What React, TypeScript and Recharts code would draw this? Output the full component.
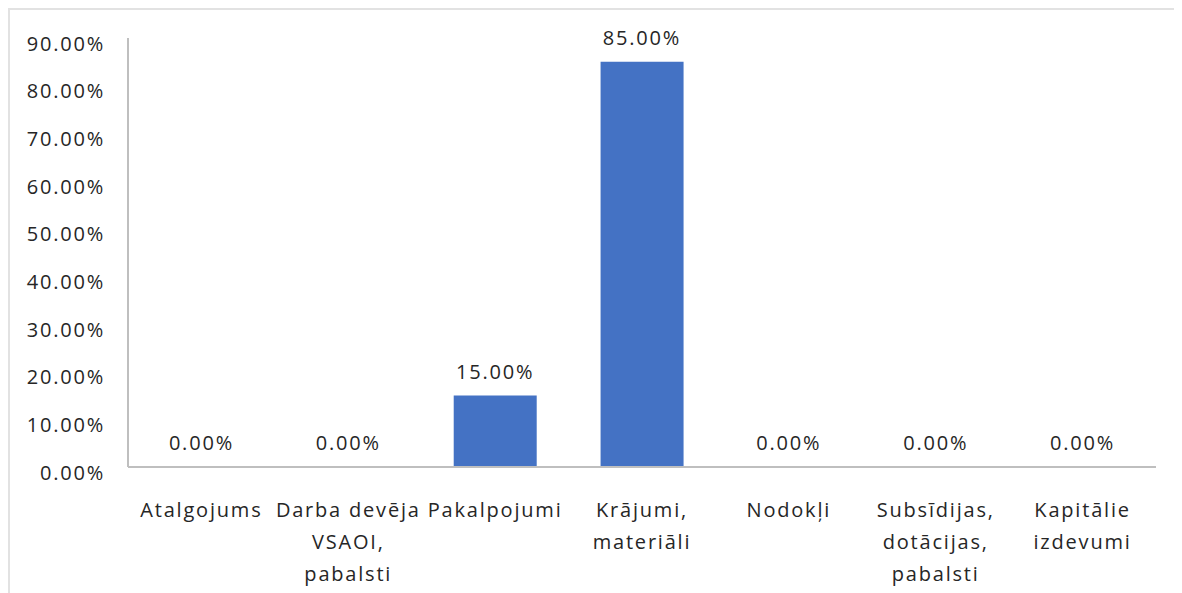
import { ComposedChart, Bar, Line, XAxis, YAxis, LabelList } from "recharts";

const categories = [
  "Atalgojums",
  "Darba devēja\nVSAOI,\npabalsti",
  "Pakalpojumi",
  "Krājumi,\nmateriāli",
  "Nodokļi",
  "Subsīdijas,\ndotācijas,\npabalsti",
  "Kapitālie\nizdevumi",
];
const shares = [0, 0, 15, 85, 0, 0, 0];
const yTicks = [0, 10, 20, 30, 40, 50, 60, 70, 80, 90];

const data = categories.map((name, i) => ({ name, value: shares[i] }));

const FONT = "'Open Sans', 'DejaVu Sans', sans-serif";
const TEXT = "#262626";
const fmt = (v: number) => `${v.toFixed(2)}%`;

function CategoryTick({ x, y, payload }: any) {
  const lines = String(payload.value).split("\n");
  return (
    <g>
      {lines.map((line, i) => (
        <text
          key={i}
          x={x}
          y={y + 40 + i * 32}
          textAnchor="middle"
          dominantBaseline="central"
          fill={TEXT}
          fontSize={20}
          fontFamily={FONT}
          letterSpacing={1.8}
        >
          {line}
        </text>
      ))}
    </g>
  );
}

function PercentTick({ x, y, payload }: any) {
  return (
    <text
      x={x - 21}
      y={y + 5}
      textAnchor="end"
      dominantBaseline="central"
      fill={TEXT}
      fontSize={20}
      fontFamily={FONT}
      letterSpacing={1.8}
    >
      {fmt(payload.value)}
    </text>
  );
}

export default function App() {
  return (
    <div
      style={{
        width: 1174,
        height: 585,
        borderTop: "2px solid #e2e2e2",
        borderLeft: "2px solid #e2e2e2",
        background: "#fff",
      }}
    >
      <ComposedChart
        width={1172}
        height={583}
        data={data}
        margin={{ top: 28, right: 26, bottom: 6, left: 8 }}
        barSize={83}
      >
        <XAxis
          dataKey="name"
          interval={0}
          height={120}
          tickLine={false}
          tickSize={0}
          axisLine={{ stroke: "#bfbfbf", strokeWidth: 2 }}
          tick={<CategoryTick />}
        />
        <YAxis
          width={110}
          domain={[0, 90]}
          ticks={yTicks}
          interval={0}
          tickLine={false}
          tickSize={0}
          axisLine={{ stroke: "#bfbfbf", strokeWidth: 2 }}
          tick={<PercentTick />}
        />
        <Bar dataKey="value" fill="#4472C4" isAnimationActive={false} />
        <Line
          dataKey="value"
          stroke="none"
          dot={false}
          activeDot={false}
          legendType="none"
          isAnimationActive={false}
        >
          <LabelList
            dataKey="value"
            position="top"
            offset={17}
            formatter={(v: any) => fmt(Number(v))}
            fill={TEXT}
            fontSize={20}
            fontFamily={FONT}
            letterSpacing={1.8}
          />
        </Line>
      </ComposedChart>
    </div>
  );
}
